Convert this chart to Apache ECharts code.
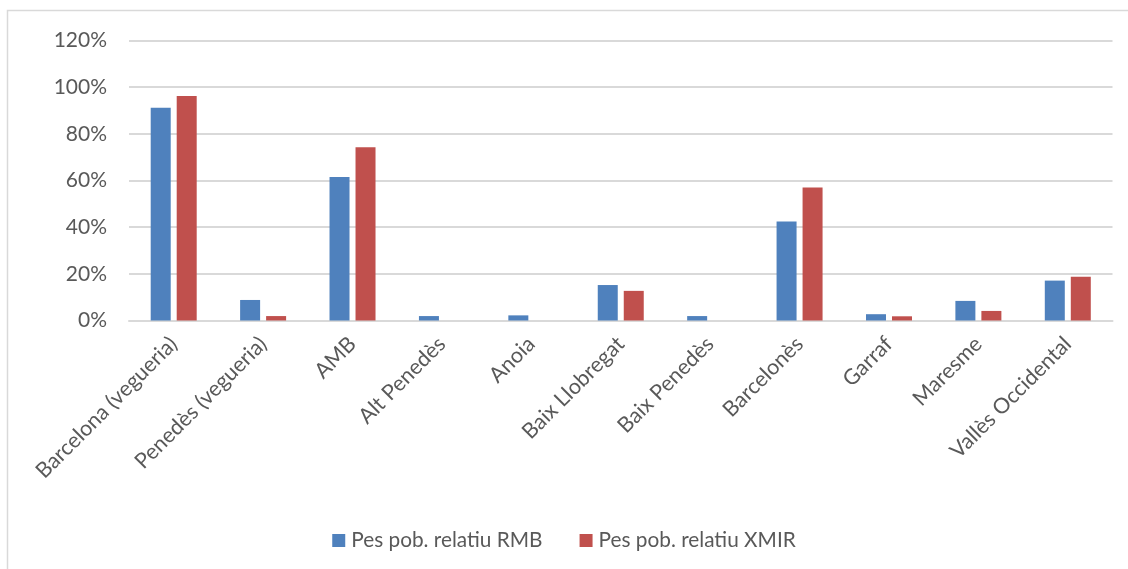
<!DOCTYPE html>
<html>
<head>
<meta charset="utf-8">
<script src="https://cdn.jsdelivr.net/npm/echarts@6/dist/echarts.min.js"></script>
<style>
  html, body { margin: 0; padding: 0; background: #fff; }
  #chart { width: 1128px; height: 569px; }
</style>
</head>
<body>
<div id="chart"></div>
<script>
// Relative population weight (%) per territory
const categories = [
  'Barcelona (vegueria)', 'Penedès (vegueria)', 'AMB', 'Alt Penedès', 'Anoia',
  'Baix Llobregat', 'Baix Penedès', 'Barcelonès', 'Garraf', 'Maresme', 'Vallès Occidental'
];
const pesRMB  = [91.2, 8.8, 61.5, 1.9, 2.2, 15.2, 1.9, 42.4, 2.7, 8.4, 17.1];
const pesXMIR = [96.2, 1.9, 74.2, 0, 0, 12.7, 0, 57.0, 1.8, 4.1, 18.8];
const seriesNames = ['Pes pob. relatiu RMB', 'Pes pob. relatiu XMIR'];
const yTicks = { min: 0, max: 120, step: 20 };

const FONT = 'Lato, "Open Sans", sans-serif';
const TEXT = '#595959';

const chart = echarts.init(document.getElementById('chart'), null, { renderer: 'canvas' });
chart.setOption({
  animation: false,
  backgroundColor: '#ffffff',
  textStyle: { fontFamily: FONT, color: TEXT },
  graphic: [{
    type: 'rect',
    shape: { x: 7.5, y: 10.5, width: 1130, height: 570 },
    style: { fill: 'none', stroke: '#d9d9d9', lineWidth: 1.5 },
    silent: true
  }],
  grid: { left: 129, right: 15.5, top: 40.5, bottom: 248.5 },
  legend: {
    top: 525,
    left: 'center',
    itemWidth: 13,
    itemHeight: 13,
    itemGap: 37,
    icon: 'rect',
    textStyle: { fontFamily: FONT, fontSize: 20.8, color: TEXT, padding: [0, 0, 0, 1] },
    data: seriesNames
  },
  xAxis: {
    type: 'category',
    data: categories,
    axisLine: { show: true, lineStyle: { color: '#d9d9d9', width: 2 } },
    axisTick: { show: false },
    axisLabel: {
      interval: 0,
      rotate: 45,
      margin: 20,
      fontFamily: FONT,
      fontSize: 21.5,
      color: TEXT
    }
  },
  yAxis: {
    type: 'value',
    min: yTicks.min,
    max: yTicks.max,
    interval: yTicks.step,
    axisLine: { show: false },
    axisTick: { show: false },
    splitLine: { lineStyle: { color: '#d9d9d9', width: 2 } },
    axisLabel: {
      formatter: '{value}%',
      margin: 22,
      fontFamily: FONT,
      fontSize: 21,
      color: TEXT
    }
  },
  series: [
    {
      name: seriesNames[0],
      type: 'bar',
      data: pesRMB,
      barWidth: 20,
      barGap: '30%',
      itemStyle: { color: '#4f81bd' }
    },
    {
      name: seriesNames[1],
      type: 'bar',
      data: pesXMIR,
      barWidth: 20,
      barGap: '30%',
      itemStyle: { color: '#c0504d' }
    }
  ]
});
</script>
</body>
</html>
